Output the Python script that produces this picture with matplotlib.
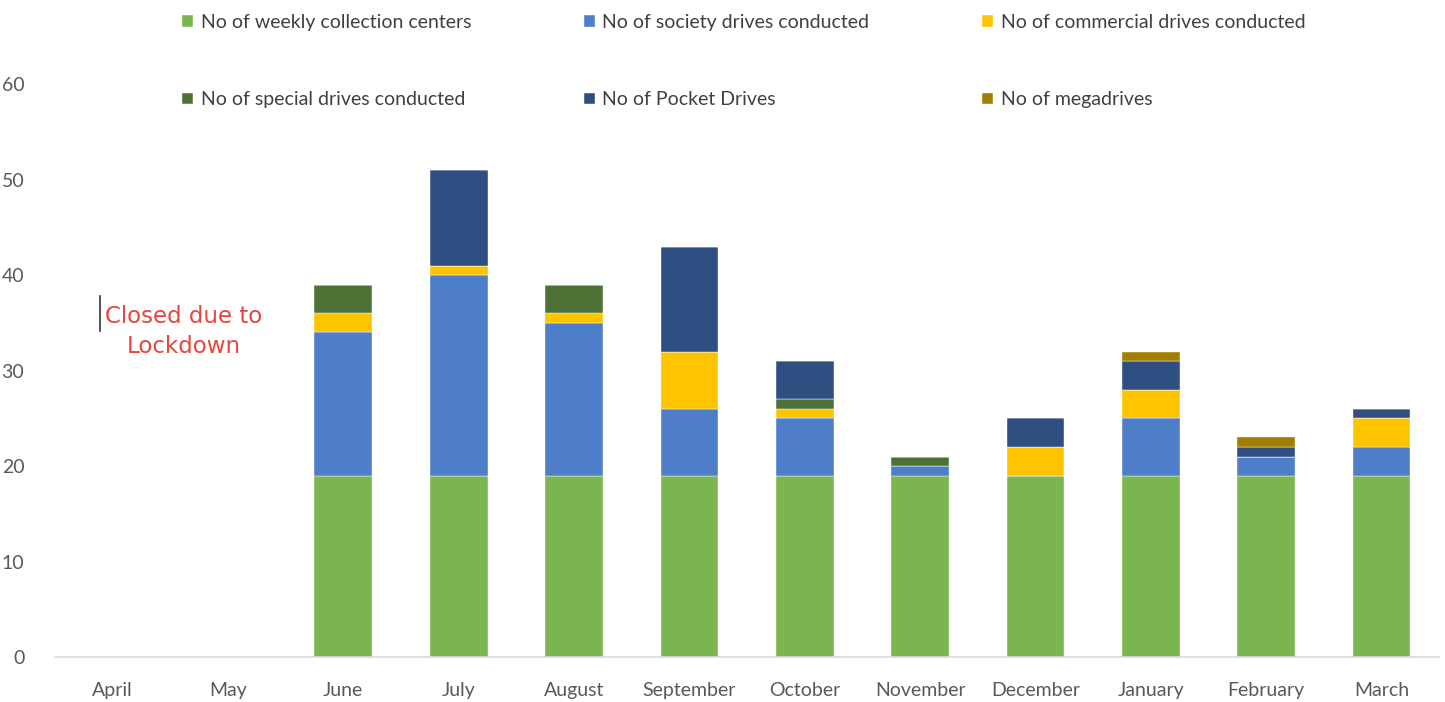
import numpy as np
import matplotlib.pyplot as plt

plt.rcParams.update({'font.family': ['Lato', 'DejaVu Sans'], 'font.size': 14})

months = ['April', 'May', 'June', 'July', 'August', 'September', 'October',
          'November', 'December', 'January', 'February', 'March']

weekly = [0, 0, 19, 19, 19, 19, 19, 19, 19, 19, 19, 19]
society = [0, 0, 15, 21, 16, 7, 6, 1, 0, 6, 2, 3]
commercial = [0, 0, 2, 1, 1, 6, 1, 0, 3, 3, 0, 3]
special = [0, 0, 3, 0, 3, 0, 1, 1, 0, 0, 0, 0]
pocket = [0, 0, 0, 10, 0, 11, 4, 0, 3, 3, 1, 1]
mega = [0, 0, 0, 0, 0, 0, 0, 0, 0, 1, 1, 0]

series = [
    ('No of weekly collection centers', weekly, '#7AB54F'),
    ('No of society drives conducted', society, '#4E7DC9'),
    ('No of commercial drives conducted', commercial, '#FFC400'),
    ('No of special drives conducted', special, '#4E7235'),
    ('No of Pocket Drives', pocket, '#2F4F83'),
    ('No of megadrives', mega, '#A07E00'),
]

fig = plt.figure(figsize=(14.45, 7.02), dpi=100)
ax = fig.add_axes([0.038, 0.064, 0.958, 0.816])

x = np.arange(len(months))
bottom = np.zeros(len(months))
handles = []
for label, vals, color in series:
    vals = np.array(vals, dtype=float)
    b = ax.bar(x, vals, 0.5, bottom=bottom, color=color, label=label,
               edgecolor='white', linewidth=0.3)
    handles.append(b)
    bottom += vals

ax.set_xlim(-0.5, 11.5)
ax.set_ylim(0, 60)
ax.set_yticks(range(0, 61, 10))
ax.set_xticks(x)
ax.set_xticklabels(months)
for s in ['top', 'right', 'left']:
    ax.spines[s].set_visible(False)
ax.spines['bottom'].set_color('#D9D9D9')
ax.spines['bottom'].set_linewidth(1.2)
ax.tick_params(axis='both', length=0, colors='#595959', labelsize=14)
ax.tick_params(axis='x', pad=18)
ax.tick_params(axis='y', pad=22)

ax.text(0.62, 34.1, 'Closed due to\nLockdown', color='#E8453C', ha='center',
        va='center', fontsize=16.5, family='DejaVu Sans', linespacing=1.35)
ax.plot([-0.11, -0.11], [34.2, 37.8], color='#333333', lw=1.2)

# legend in Excel order, 3 per row
leg = fig.legend([handles[i] for i in [0, 3, 1, 4, 2, 5]],
                 [series[i][0] for i in [0, 3, 1, 4, 2, 5]],
                 ncol=3, loc='upper left', bbox_to_anchor=(0.114, 1.005),
                 frameon=False, fontsize=14, labelcolor='#404040',
                 handlelength=0.55, handleheight=0.55, handletextpad=0.4,
                 labelspacing=3.1, columnspacing=5.8)

fig.savefig('out.png', dpi=100)
